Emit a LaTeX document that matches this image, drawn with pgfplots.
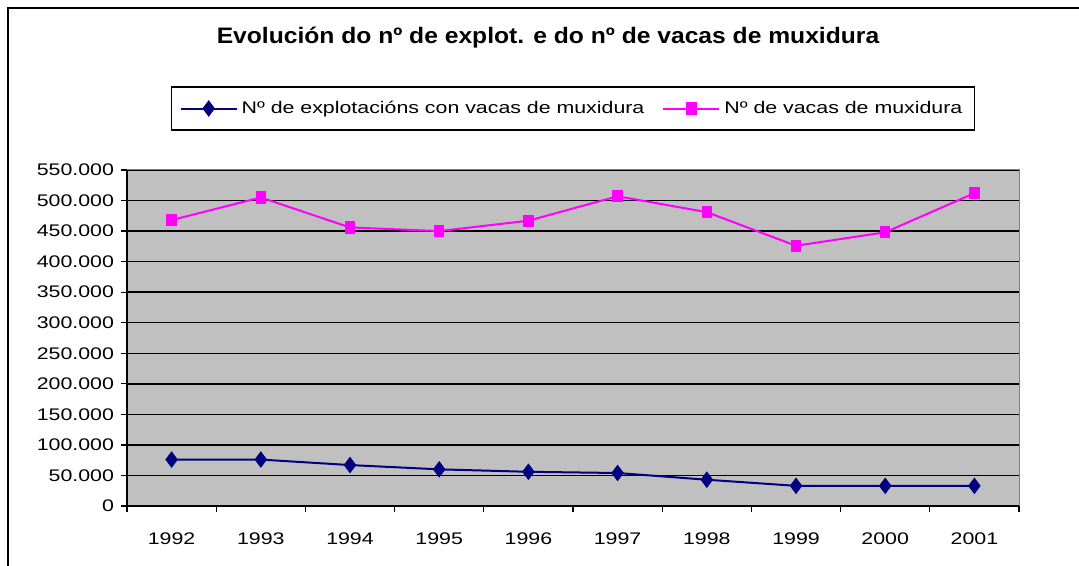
\documentclass[border=0pt]{standalone}
\usepackage{fontspec}
\setmainfont{Liberation Sans}[FakeStretch=1.27]
\newfontfamily\titlefont{Liberation Sans}[FakeStretch=1.10]
\usepackage{pgfplots}
\pgfplotsset{compat=1.18}
\definecolor{plotgray}{RGB}{192,192,192}
\definecolor{navyblue}{RGB}{0,0,128}
\definecolor{magentapink}{RGB}{255,0,255}
\begin{document}
\begin{tikzpicture}[x=1pt,y=1pt]
\path[use as bounding box] (0,0) rectangle (539.5,283);
\draw[line width=1pt] (4,0) -- (4,279) -- (539.5,279);
\node[font=\titlefont\fontsize{11.2}{13}\selectfont\bfseries] at (274,264) {Evolución do nº de explot. e do nº de vacas de muxidura};
\begin{axis}[
  at={(63.5pt,30pt)}, anchor=south west,
  scale only axis, width=446pt, height=168pt,
  xmin=0.5, xmax=10.5, ymin=0, ymax=550000,
  xtick={0.5,1.5,...,10.5},
  xticklabels={1992,1993,1994,1995,1996,1997,1998,1999,2000,2001},
  x tick label as interval,
  ytick={0,50000,...,550000},
  scaled y ticks=false,
  axis lines=left,
  axis line style={-, black, line width=0.75pt},
  tick align=outside,
  major tick length=3pt,
  tick style={black, line width=0.6pt},
  ymajorgrids,
  major grid style={black, line width=0.75pt},
  axis background/.style={fill=plotgray},
  tick label style={font=\fontsize{8.4}{10}\selectfont},
  x tick label style={yshift=-7pt},
  legend style={at={(0.5,1.183)}, anchor=center, draw=black, line width=0.75pt, fill=white,
    font=\fontsize{8.4}{10}\selectfont, inner xsep=4pt, inner ysep=5pt,
    /tikz/every even column/.append style={column sep=7pt}},
  legend columns=2,
  legend image code/.code={\draw[mark repeat=2,mark phase=2,#1] plot coordinates {(0pt,0pt) (14pt,0pt) (28pt,0pt)};},
  after end axis/.code={\draw[gray, line width=0.5pt] (rel axis cs:0,1) -- (rel axis cs:1,1) -- (rel axis cs:1,0);},
  clip=false,
  /pgf/number format/.cd, fixed, 1000 sep={.}, assume math mode=true
]
\addplot[color=navyblue, line width=1pt, mark=diamond*, mark size=3.75pt, mark options={fill=navyblue, line width=0.5pt}]
  coordinates {(1,76000) (2,76000) (3,67000) (4,60000) (5,56000) (6,54000) (7,43000) (8,33000) (9,33000) (10,33000)};
\addlegendentry{Nº de explotacións con vacas de muxidura}
\addplot[color=magentapink, line width=1pt, mark=square*, mark size=2.8pt, mark options={fill=magentapink, xscale=0.85, line width=0.5pt}]
  coordinates {(1,468000) (2,505000) (3,456000) (4,450000) (5,467000) (6,507000) (7,481000) (8,426000) (9,448000) (10,512000)};
\addlegendentry{Nº de vacas de muxidura}
\end{axis}
\end{tikzpicture}
\end{document}
